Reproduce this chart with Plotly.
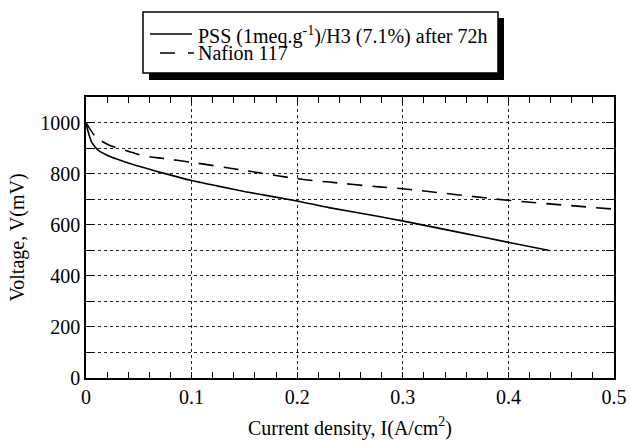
import plotly.graph_objects as go

# ---- data ----
pss_x = [0, 0.002, 0.0055, 0.012, 0.0245, 0.04, 0.056, 0.075, 0.099, 0.125, 0.151,
         0.2, 0.23, 0.2775, 0.2996, 0.35, 0.399, 0.4388]
pss_y = [1000, 965, 922, 890, 864, 842, 822, 800, 774, 751, 729,
         693, 667, 632, 615, 573, 532, 499]

naf_x = [0, 0.0095, 0.0227, 0.035, 0.048, 0.0607, 0.072, 0.099, 0.151, 0.2, 0.23,
         0.2775, 0.2996, 0.399, 0.5]
naf_y = [1000, 942, 910, 894, 877, 866, 860, 845, 812, 780, 767,
         748, 741, 696, 661]

pss_name = "PSS (1meq.g<sup>-1</sup>)/H3 (7.1%) after 72h"
naf_name = "Nafion 117"
x_title = "Current density, I(A/cm<sup>2</sup>)"
y_title = "Voltage, V(mV)"

FONT = "Liberation Serif"

W, H = 630, 440
L, R, T, B = 86, 16, 97, 62
PW, PH = W - L - R, H - T - B


def px(xp):
    return (xp - L) / PW


def py(yp):
    return (H - B - yp) / PH


fig = go.Figure()
fig.add_trace(go.Scatter(x=pss_x, y=pss_y, mode="lines", name=pss_name,
                         line=dict(color="black", width=1.6, shape="spline", smoothing=0.6)))
fig.add_trace(go.Scatter(x=naf_x, y=naf_y, mode="lines", name=naf_name,
                         line=dict(color="black", width=1.6, dash="15px,10px",
                                   shape="spline", smoothing=0.6)))

grid_col = "#222222"
fig.update_xaxes(
    range=[0, 0.5], dtick=0.1, tick0=0, tickformat="~g",
    showline=True, linecolor="black", linewidth=1.5, mirror="ticks",
    ticks="inside", ticklen=6, tickcolor="black", tickwidth=1,
    showgrid=True, gridcolor=grid_col, griddash="dot", gridwidth=1,
    zeroline=False, automargin=False,
    minor=dict(dtick=0.02, ticks="inside", ticklen=6, tickcolor="black", showgrid=False),
    tickfont=dict(family=FONT, size=20, color="black"),
    title=dict(text=x_title, font=dict(family=FONT, size=20, color="black"), standoff=14),
)
fig.update_yaxes(
    range=[0, 1100], dtick=200, tick0=0,
    showline=True, linecolor="black", linewidth=1.5, mirror="ticks",
    ticks="inside", ticklen=8, tickcolor="black", tickwidth=1,
    showgrid=True, gridcolor=grid_col, griddash="dot", gridwidth=1,
    zeroline=False, automargin=False,
    minor=dict(dtick=100, ticks="inside", ticklen=8, tickcolor="black",
               showgrid=True, gridcolor=grid_col, griddash="dot", gridwidth=1),
    tickfont=dict(family=FONT, size=20, color="black"),
    title=dict(text=y_title, font=dict(family=FONT, size=20, color="black"), standoff=10),
)

# ---- hand-drawn legend box with drop shadow ----
bx0, bx1, by0, by1 = 143, 498, 12, 73
shapes = [
    dict(type="rect", xref="paper", yref="paper", x0=px(bx0 + 6), x1=px(bx1 + 6),
         y0=py(by1 + 7), y1=py(by0 + 6), fillcolor="black", line=dict(width=0), layer="above"),
    dict(type="rect", xref="paper", yref="paper", x0=px(bx0), x1=px(bx1),
         y0=py(by1), y1=py(by0), fillcolor="white", line=dict(color="black", width=1.5), layer="above"),
    dict(type="line", xref="paper", yref="paper", x0=px(150), x1=px(192),
         y0=py(34), y1=py(34), line=dict(color="black", width=1.3), layer="above"),
    dict(type="line", xref="paper", yref="paper", x0=px(160), x1=px(194),
         y0=py(53), y1=py(53), line=dict(color="black", width=1.3, dash="15px,13px"), layer="above"),
]
annotations = [
    dict(xref="paper", yref="paper", x=px(196), y=py(35), xanchor="left", yanchor="middle",
         text=pss_name, showarrow=False, font=dict(family=FONT, size=20, color="black")),
    dict(xref="paper", yref="paper", x=px(196), y=py(53), xanchor="left", yanchor="middle",
         text=naf_name, showarrow=False, font=dict(family=FONT, size=20, color="black")),
]

fig.update_layout(
    width=W, height=H,
    margin=dict(l=L, r=R, t=T, b=B, pad=0),
    paper_bgcolor="white", plot_bgcolor="white",
    showlegend=False,
    shapes=shapes, annotations=annotations,
    font=dict(family=FONT, size=20, color="black"),
)

fig.write_html("out.html")
